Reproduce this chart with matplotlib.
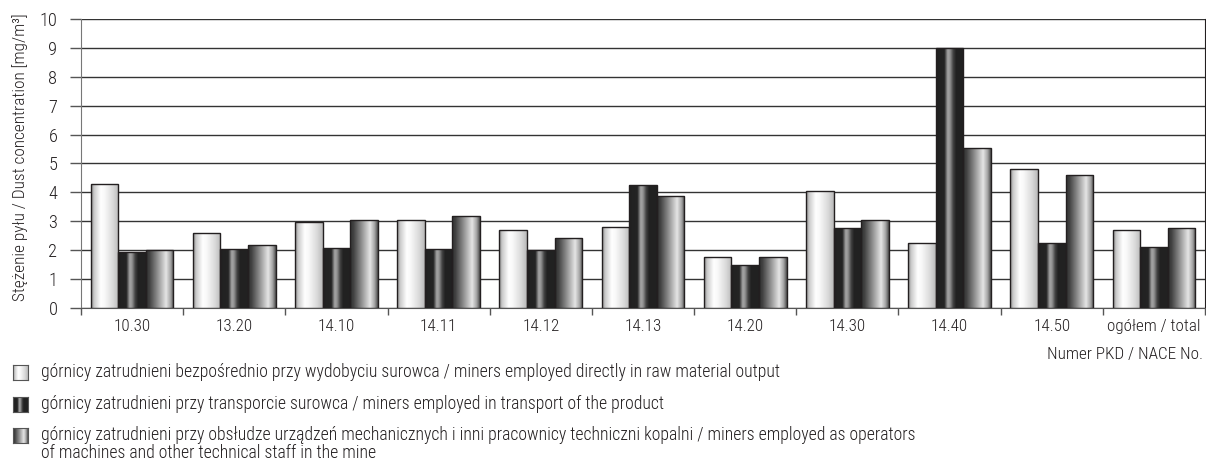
import numpy as np
import matplotlib
matplotlib.use("Agg")
import matplotlib.pyplot as plt
from matplotlib.colors import LinearSegmentedColormap
from matplotlib import font_manager
from matplotlib.font_manager import FontProperties

# --- data -----------------------------------------------------------------
categories = ["10.30", "13.20", "14.10", "14.11", "14.12", "14.13",
              "14.20", "14.30", "14.40", "14.50", "ogółem / total"]
direct_output = [4.29, 2.60, 2.96, 3.03, 2.70, 2.79, 1.75, 4.04, 2.25, 4.82, 2.70]
transport = [1.94, 2.03, 2.08, 2.03, 2.00, 4.26, 1.49, 2.77, 8.98, 2.26, 2.10]
technical_staff = [2.00, 2.17, 3.04, 3.18, 2.41, 3.89, 1.75, 3.04, 5.52, 4.60, 2.77]

legend_labels = [
    "górnicy zatrudnieni bezpośrednio przy wydobyciu surowca / miners employed directly in raw material output",
    "górnicy zatrudnieni przy transporcie surowca / miners employed in transport of the product",
    "górnicy zatrudnieni przy obsłudze urządzeń mechanicznych i inni pracownicy techniczni kopalni / miners employed as operators\nof machines and other technical staff in the mine",
]
y_label = "Stężenie pyłu / Dust concentration [mg/m³]"
x_label = "Numer PKD / NACE No."


# --- font: prefer a narrow, light sans face -----------------------------------
def pick_font():
    fl = font_manager.fontManager.ttflist
    plain = [f for f in fl if f.style == "normal"]
    for want in ("Liberation Sans Narrow", "Roboto Condensed", "Open Sans Condensed"):
        for wt in (300, 400):
            for f in plain:
                if f.name == want and f.weight == wt:
                    return FontProperties(fname=f.fname)
    for wt in (300, 400):
        for f in plain:
            if "ondensed" in f.fname and f.weight == wt and "Oblique" not in f.fname \
                    and "Italic" not in f.fname:
                return FontProperties(fname=f.fname)
    return FontProperties(family="Liberation Sans")


FP = pick_font()
TEXT = "#231f20"


def fp(size):
    p = FP.copy()
    p.set_size(size)
    return p


def gray_cmap(name, stops):
    return LinearSegmentedColormap.from_list(
        name, [(p, (v, v, v)) for p, v in stops])


cmaps = [
    gray_cmap("light", [(0, 0.55), (0.12, 0.80), (0.35, 1.0), (0.5, 0.97), (0.8, 0.85), (1, 0.72)]),
    gray_cmap("dark", [(0, 0.13), (0.3, 0.14), (0.42, 0.65), (0.5, 0.58), (0.62, 0.25), (0.72, 0.13), (1, 0.13)]),
    gray_cmap("metal", [(0, 0.2), (0.12, 0.25), (0.45, 0.6), (0.72, 0.9), (0.88, 0.65), (1, 0.3)]),
]
grad = np.linspace(0, 1, 256).reshape(1, -1)

W, H = 1206, 463
fig = plt.figure(figsize=(W / 100, H / 100), dpi=100)
ax = fig.add_axes([81 / W, (H - 308) / H, (1205 - 81) / W, (308 - 19) / H])

x = np.arange(len(categories))
width = 0.27
series = [direct_output, transport, technical_staff]
for i, (vals, cm) in enumerate(zip(series, cmaps)):
    offs = (i - 1) * width
    bars = ax.bar(x + offs, vals, width, facecolor="none", edgecolor=TEXT,
                  linewidth=1.0, zorder=4)
    for b in bars:
        x0, w, h = b.get_x(), b.get_width(), b.get_height()
        im = ax.imshow(grad, cmap=cm, aspect="auto", extent=(x0, x0 + w, 0, h),
                       zorder=3, interpolation="bilinear", vmin=0, vmax=1)
        im.set_clip_path(b)

ax.set_xlim(-0.5, len(categories) - 0.5)
ax.set_ylim(0, 10)
ax.set_yticks(range(0, 11))
ax.yaxis.grid(True, color="#333333", linewidth=1.0, zorder=1)
ax.set_axisbelow(True)

# category labels centred, ticks on category boundaries
ax.set_xticks(x)
ax.set_xticks(np.arange(-0.5, len(categories)), minor=True)
ax.tick_params(axis="x", which="major", length=0, pad=8)
ax.tick_params(axis="x", which="minor", length=5, color="#555555", width=1)
ax.tick_params(axis="y", length=8, color="#555555", width=1, pad=9)
ax.spines["top"].set_visible(False)
ax.spines["left"].set_color("#777777")
ax.spines["bottom"].set_color("#555555")
ax.spines["right"].set_color(TEXT)

renderer = fig.canvas.get_renderer()


def fit_size(text_obj, target_px, horizontal=True):
    """Scale a text's font size so that its rendered extent matches target_px."""
    bb = text_obj.get_window_extent(renderer)
    cur = bb.width if horizontal else bb.height
    size = text_obj.get_fontsize() * target_px / cur
    text_obj.set_fontsize(size)
    return size


xt = ax.set_xticklabels(categories, fontproperties=fp(12), color=TEXT)
tick_size = fit_size(xt[-1], 93)
for t in xt:
    t.set_fontsize(tick_size)
for t in ax.get_yticklabels():
    t.set_fontproperties(fp(tick_size * 1.08))
    t.set_color(TEXT)

ylab = fig.text(28 / W, 1 - 157 / H, y_label, rotation=90, ha="right", va="center",
                fontproperties=fp(12), color=TEXT)
fit_size(ylab, 287, horizontal=False)

xlab = fig.text(1203 / W, 1 - 355 / H, x_label, ha="right", va="center",
                fontproperties=fp(12), color=TEXT)
fit_size(xlab, 155)

# legend: gradient swatches with labels
legend_y = [372, 404, 435]
leg_texts = []
for ypix, label, cm in zip(legend_y, legend_labels, cmaps):
    sw = fig.add_axes([13 / W, 1 - (ypix + 8) / H, 15 / W, 15 / H])
    sw.imshow(grad, cmap=cm, aspect="auto", vmin=0, vmax=1, interpolation="bilinear")
    sw.set_xticks([])
    sw.set_yticks([])
    for s in sw.spines.values():
        s.set_color("#555555")
        s.set_linewidth(0.8)
    if "\n" in label:
        t = fig.text(41 / W, 1 - (ypix - 9) / H, label, ha="left", va="top",
                     fontproperties=fp(10.5), color=TEXT, linespacing=1.0)
    else:
        t = fig.text(41 / W, 1 - ypix / H, label, ha="left", va="center",
                     fontproperties=fp(10.5), color=TEXT)
    leg_texts.append(t)

leg_size = fit_size(leg_texts[0], 743)
for t in leg_texts[1:]:
    t.set_fontsize(leg_size)

fig.savefig("out.png", dpi=100)
